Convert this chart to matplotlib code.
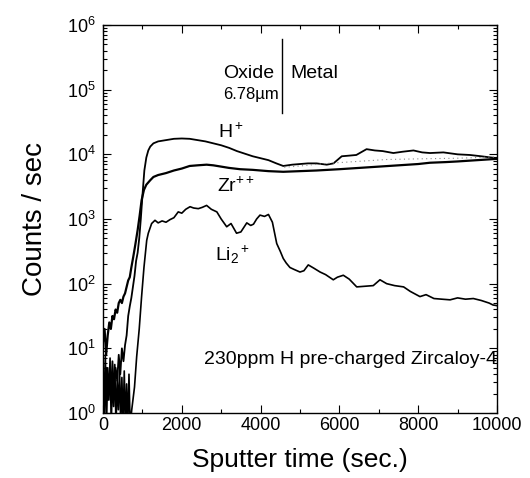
import numpy as np
import matplotlib
matplotlib.use("Agg")
import matplotlib.pyplot as plt
from matplotlib.ticker import MultipleLocator, FixedLocator, NullFormatter, LogFormatterSciNotation

plt.rcParams['font.family'] = ['Liberation Sans', 'DejaVu Sans']
plt.rcParams['mathtext.fontset'] = 'custom'
plt.rcParams['mathtext.rm'] = 'Liberation Sans'
plt.rcParams['mathtext.it'] = 'Liberation Sans'
plt.rcParams['mathtext.bf'] = 'Liberation Sans:bold'
plt.rcParams['mathtext.default'] = 'regular'

# ---- data (log10 of counts/sec) ----
h_t = [0, 40, 80, 120, 160, 200, 240, 280, 320, 360, 400, 440, 480, 520, 560, 600,
       640, 680, 720, 760, 800, 840, 880, 920, 960, 1000, 1050, 1100, 1150, 1200, 1280,
       1400, 1600, 1800, 2000, 2200, 2400, 2600, 2800, 3000, 3200, 3400, 3600, 3800,
       4000, 4200, 4400, 4575, 4800, 5000, 5200, 5420, 5680, 5850, 6060, 6250, 6430,
       6690, 6900, 7100, 7370, 7600, 7880, 8100, 8300, 8640, 9000, 9315, 9600, 10000]
h_log = [0.9, 0.4, 0.7, 0.2, 0.6, 0.3, 0.8, 0.35, 0.7, 0.5, 0.9, 0.6, 1.0, 0.8, 1.05, 1.2,
         1.5, 1.65, 1.78, 1.95, 2.12, 2.35, 2.48, 2.7, 3.0, 3.35, 3.75, 3.95, 4.06, 4.12, 4.17,
         4.2, 4.22, 4.24, 4.245, 4.24, 4.22, 4.2, 4.17, 4.14, 4.1, 4.05, 4.01, 3.97,
         3.94, 3.91, 3.86, 3.82, 3.84, 3.85, 3.86, 3.86, 3.84, 3.86, 3.97, 3.98, 3.99,
         4.08, 4.06, 4.05, 4.02, 4.04, 4.06, 4.03, 4.02, 4.03, 4.0, 3.99, 3.97, 3.94]

zr_t = [0, 40, 80, 120, 160, 200, 240, 280, 320, 360, 400, 440, 480, 520, 560, 600,
        640, 680, 720, 770, 820, 880, 930, 980, 1040, 1100, 1200, 1280, 1400, 1600, 1800,
        2000, 2200, 2400, 2630, 2800, 3000, 3200, 3480, 3800, 4200, 4575, 5000, 5420,
        6000, 6500, 7000, 7500, 8000, 8300, 8700, 9000, 9500, 10000]
zr_log = [1.1, 1.3, 0.9, 1.2, 1.4, 1.3, 1.5, 1.45, 1.6, 1.55, 1.7, 1.75, 1.7, 1.8, 1.85, 1.95,
          2.05, 2.1, 2.25, 2.42, 2.6, 2.83, 3.05, 3.29, 3.45, 3.53, 3.6, 3.65, 3.68, 3.71, 3.75,
          3.78, 3.82, 3.83, 3.84, 3.83, 3.81, 3.79, 3.77, 3.76, 3.74, 3.73, 3.74, 3.75,
          3.77, 3.79, 3.81, 3.83, 3.85, 3.87, 3.88, 3.89, 3.91, 3.93]

li_t = [0, 30, 60, 90, 120, 150, 180, 210, 240, 270, 300, 330, 360, 390, 420, 450, 480,
        510, 540, 570, 600, 630, 660, 690, 730, 800, 855, 920, 980, 1040, 1110, 1150, 1235,
        1320, 1400, 1500, 1600, 1700, 1800, 1910, 2000, 2100, 2210, 2300, 2420, 2520, 2630,
        2750, 2890, 3000, 3140, 3250, 3390, 3500, 3650, 3750, 3820, 3900, 3985, 4100, 4200,
        4300, 4410, 4500, 4575, 4650, 4745, 4850, 5000, 5100, 5210, 5350, 5510, 5650, 5845,
        5950, 6100, 6250, 6440, 6650, 6860, 7030, 7200, 7400, 7630, 7800, 8045, 8200, 8400,
        8600, 8810, 9000, 9200, 9400, 9600, 9800, 9900, 10000]
li_log = [0.8, -0.2, 0.9, -0.2, 0.7, 0.2, 0.85, -0.2, 0.6, 0.1, 0.75, -0.2, 0.5, 0.05, 0.7,
          -0.2, 0.55, -0.2, 0.65, -0.2, 0.45, -0.2, 0.6, -0.2, 0.05, 0.4, 0.87, 1.3, 1.8, 2.25,
          2.67, 2.78, 2.93, 2.98, 2.94, 2.97, 2.95, 2.99, 3.02, 3.11, 3.09, 3.15, 3.19, 3.17,
          3.16, 3.18, 3.21, 3.15, 3.11, 3.0, 2.88, 2.93, 2.78, 2.8, 2.94, 2.9, 2.92, 3.0, 3.06,
          3.04, 3.07, 2.95, 2.62, 2.5, 2.39, 2.32, 2.25, 2.22, 2.18, 2.2, 2.29, 2.24, 2.18, 2.14,
          2.06, 2.1, 2.13, 2.07, 1.95, 1.96, 1.97, 2.06, 2.0, 1.97, 1.95, 1.88, 1.8, 1.83, 1.77,
          1.76, 1.75, 1.78, 1.76, 1.77, 1.74, 1.7, 1.67, 1.66]

gray_t = [4600, 5000, 5680, 6200, 7200, 8000, 9000, 10000]
gray_log = [3.80, 3.82, 3.86, 3.88, 3.92, 3.93, 3.94, 3.96]

interface_t = 4550
interface_log = [4.64, 5.78]

y_major = [1e0, 1e1, 1e2, 1e3, 1e4, 1e5, 1e6]

fig = plt.figure(figsize=(5.3, 4.78), dpi=100)
ax = fig.add_axes([0.1943, 0.136, 0.7434, 0.8117])

ax.plot(zr_t, 10 ** np.array(zr_log), color='black', lw=1.6)
ax.plot(h_t, 10 ** np.array(h_log), color='black', lw=1.3)
ax.plot(li_t, 10 ** np.array(li_log), color='black', lw=1.2)
ax.plot(gray_t, 10 ** np.array(gray_log), color='#888888', lw=0.8, ls=(0, (1, 3)))
ax.plot([interface_t, interface_t], 10 ** np.array(interface_log), color='black', lw=1.0)

ax.set_yscale('log')
ax.set_xlim(0, 10000)
ax.set_ylim(1, 1e6)
ax.xaxis.set_major_locator(MultipleLocator(2000))
ax.xaxis.set_minor_locator(MultipleLocator(1000))
ax.yaxis.set_major_locator(FixedLocator(y_major))
ax.yaxis.set_major_formatter(LogFormatterSciNotation())
minor_vals = [m * d for d in y_major[:-1] for m in range(2, 10)]
ax.yaxis.set_minor_locator(FixedLocator(minor_vals))
ax.yaxis.set_minor_formatter(NullFormatter())
ax.tick_params(which='both', direction='in', top=True, right=True, width=0.8)
ax.tick_params(which='major', length=6, labelsize=13)
ax.tick_params(which='minor', length=3)
ax.tick_params(axis='x', pad=3)
ax.tick_params(axis='y', pad=5)
for s in ax.spines.values():
    s.set_linewidth(1.0)

ax.set_xlabel('Sputter time (sec.)', fontsize=19, labelpad=10)
ax.set_ylabel('Counts / sec', fontsize=20, labelpad=14)

ax.text(2920, 10 ** 4.34, r'H$^+$', fontsize=14, va='center', ha='left')
ax.text(2890, 10 ** 3.51, r'Zr$^{++}$', fontsize=14, va='center', ha='left')
ax.text(2840, 10 ** 2.45, r'Li$_2$$^+$', fontsize=14, va='center', ha='left')
ax.text(3045, 10 ** 5.25, 'Oxide', fontsize=14, va='center', ha='left')
ax.text(3045, 10 ** 4.92, '6.78\u00b5m', fontsize=12, va='center', ha='left')
ax.text(4750, 10 ** 5.25, 'Metal', fontsize=14, va='center', ha='left')
ax.text(10000, 10 ** 0.82, '230ppm H pre-charged Zircaloy-4', fontsize=14,
        va='center', ha='right')

fig.savefig('out.png', dpi=100)
